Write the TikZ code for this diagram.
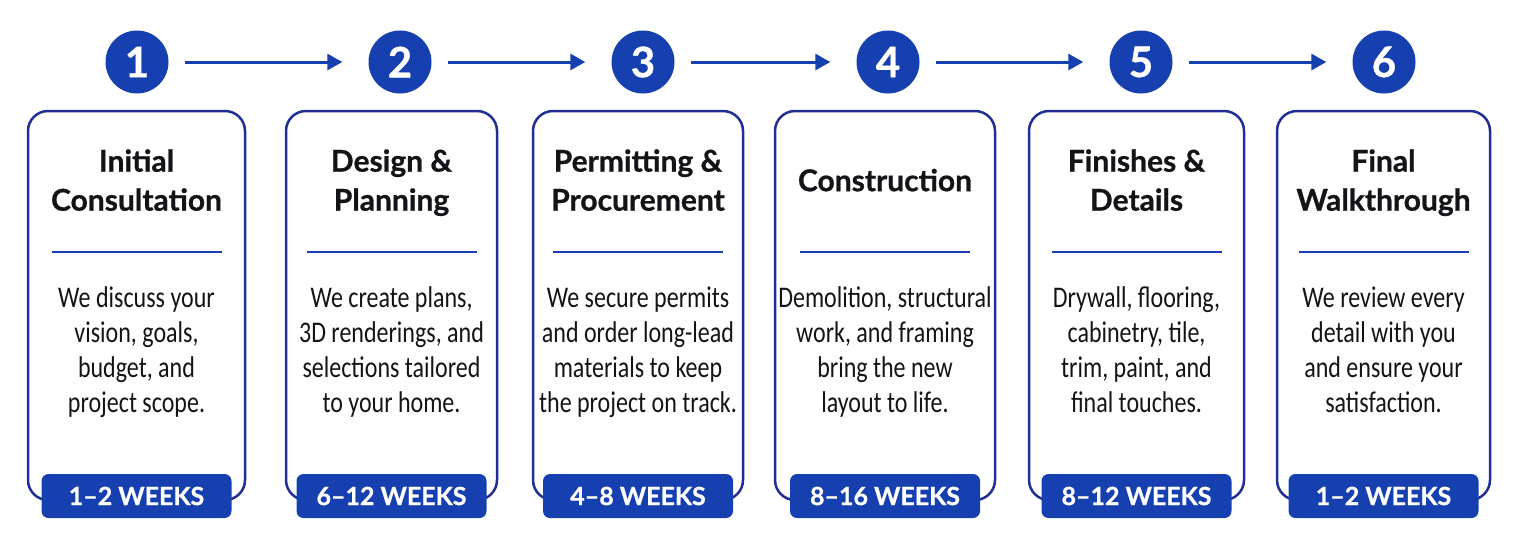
\documentclass[tikz,border=0pt]{standalone}
\usepackage{fontspec}
\setmainfont{Carlito}
\newfontfamily\headfont[BoldFeatures={FakeBold=0.8}]{Lato}
\newfontfamily\bodyfont[FakeStretch=0.8]{Carlito}
\usetikzlibrary{arrows.meta}
\definecolor{stepblue}{RGB}{22,64,176}
\definecolor{cardline}{RGB}{32,46,150}
\definecolor{inktext}{RGB}{20,20,24}
\tikzset{stepnum/.style={circle,fill=stepblue,minimum size=63pt,inner sep=0pt,
        text=white,font=\headfont\bfseries\fontsize{42}{42}\selectfont},
    card/.style={draw=cardline,line width=2.5pt,rounded corners=20pt,
        minimum height=389pt,inner sep=0pt},
    steptitle/.style={align=center,text=inktext,text depth=0pt,
        font=\headfont\bfseries\fontsize{30}{39}\selectfont},
    stepbody/.style={align=center,text=inktext,text depth=7pt,
        font=\bodyfont\fontsize{30}{35}\selectfont},
    seprule/.style={draw=stepblue,line width=2.5pt},
    duration/.style={fill=stepblue,rounded corners=7pt,minimum width=190pt,
        minimum height=44pt,inner sep=0pt,text=white,
        font=\headfont\bfseries\fontsize{25}{25}\selectfont},
    steparrow/.style={draw=stepblue,line width=3pt,
        -{Triangle[length=15pt,width=16pt]},shorten <=16pt,shorten >=26pt},
    }

\begin{document}
\begin{tikzpicture}[x=1pt,y=-1pt]
\useasboundingbox (0,0) rectangle (1517,542);
\foreach \cx/\w/\nx/\n/\ttl/\txt/\dur in {%
  136.5/217/137/1/{Initial\\Consultation}/{We discuss your\\vision, goals,\\budget, and\\project scope.}/{1\textendash2 WEEKS},
  391.5/211/400/2/{Design \&\\Planning}/{We create plans,\\3D renderings, and\\selections tailored\\to your home.}/{6\textendash12 WEEKS},
  638/210/643/3/{Permitting \&\\Procurement}/{We secure permits\\and order long-lead\\materials to keep\\the project on track.}/{4\textendash8 WEEKS},
  885/220/888/4/{Construction}/{Demolition, structural\\work, and framing\\bring the new\\layout to life.}/{8\textendash16 WEEKS},
  1136.5/215/1141/5/{Finishes \&\\Details}/{Drywall, flooring,\\cabinetry, tile,\\trim, paint, and\\final touches.}/{8\textendash12 WEEKS},
  1383.5/213/1384/6/{Final\\Walkthrough}/{We review every\\detail with you\\and ensure your\\satisfaction.}/{1\textendash2 WEEKS}%
  }{
  \node[stepnum] (n\n) at (\nx,62) {\n};
  \node[card,minimum width=\w pt] (c\n) at (\cx,305.5) {};
  \node[steptitle] (t\n) at (\cx,180) {\ttl};
  \draw[seprule] (\cx-85,252) -- (\cx+85,252);
  \node[stepbody] (b\n) at (\cx,353) {\txt};
  \node[duration] (d\n) at (\cx,496) {\dur};
}
% arrows between the numbers
\foreach \i [count=\j from 2] in {1,...,5}
  \draw[steparrow] (n\i) -- (n\j);
\end{tikzpicture}
\end{document}
